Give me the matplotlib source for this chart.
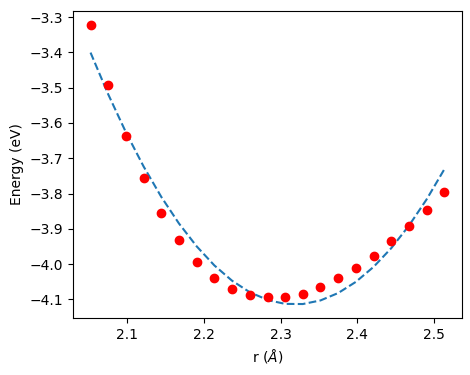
import numpy as np
import matplotlib; matplotlib.use('Agg')
import matplotlib.pyplot as plt

# ── Data ──────────────────────────────────────────────────────────────────────
r = [2.053, 2.076, 2.099, 2.122, 2.145, 2.168, 2.191, 2.214, 2.237, 2.260,
     2.284, 2.306, 2.329, 2.352, 2.375, 2.398, 2.421, 2.444, 2.467, 2.490, 2.513]
energy = [-3.322, -3.492, -3.636, -3.755, -3.854, -3.931, -3.993, -4.038, -4.069, -4.086,
          -4.094, -4.094, -4.084, -4.066, -4.040, -4.012, -3.976, -3.935, -3.891, -3.846, -3.795]

# harmonic fit parameters: E = E0 + a (r - r0)^2
FIT_A  = 10.12
FIT_R0 = 2.3185
FIT_E0 = -4.114

r_arr = np.array(r)
fit = FIT_E0 + FIT_A * (r_arr - FIT_R0) ** 2

fig, ax = plt.subplots(figsize=(4.7, 3.75), dpi=100)
ax.plot(r_arr, fit, '--')
ax.plot(r, energy, 'ro')
ax.set_xlabel(r'r ($\AA$)')
ax.set_ylabel('Energy (eV)')

fig.subplots_adjust(left=0.155, right=0.983, top=0.971, bottom=0.152)
fig.savefig('out.png', dpi=100)
